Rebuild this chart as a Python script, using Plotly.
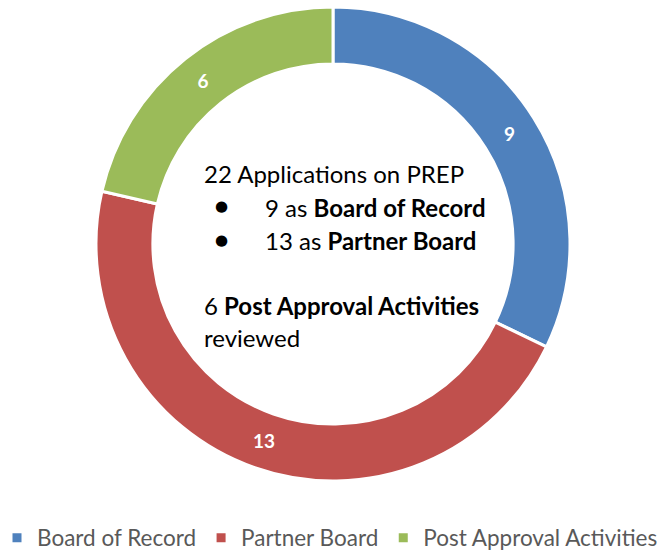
import plotly.graph_objects as go

categories = ["Board of Record", "Partner Board", "Post Approval Activities"]
values = [9, 13, 6]
colors = ["#4F81BD", "#C0504D", "#9BBB59"]

W, H = 669, 552
MB = 20               # bottom margin (legend lives there)
PH = H - MB           # plot-area height
FONT = "Lato"


def px(x):
    return x / W


def py(y):
    return 1 - y / PH


fig = go.Figure(go.Pie(
    labels=categories, values=values, sort=False, direction="clockwise",
    hole=0.76, marker=dict(colors=colors, line=dict(color="white", width=3)),
    textinfo="value", textposition="inside", insidetextorientation="horizontal",
    textfont=dict(family=FONT, size=19, color="white", weight="bold"),
    domain=dict(x=[px(95), px(571)], y=[py(481), py(7)]),
    hoverinfo="label+value",
))

center_lines = [
    (202, 173, "22 Applications on PREP"),
    (263, 207, "9 as <b>Board of Record</b>"),
    (263, 240, "13 as <b>Partner Board</b>"),
    (202, 305, "6 <b>Post Approval Activities</b>"),
    (202, 337, "reviewed"),
]
annotations = []
for x, y, t in center_lines:
    annotations.append(dict(x=px(x), y=py(y), xref="paper", yref="paper", text=t,
                            showarrow=False, xanchor="left", yanchor="middle",
                            font=dict(family=FONT, size=24, color="black")))
for y in (206, 240):
    annotations.append(dict(x=px(221), y=py(y), xref="paper", yref="paper", text="●",
                            showarrow=False, xanchor="center", yanchor="middle",
                            font=dict(family="DejaVu Sans", size=15, color="black")))

fig.update_layout(
    width=W, height=H, margin=dict(l=0, r=0, t=0, b=MB, autoexpand=False),
    paper_bgcolor="white", plot_bgcolor="white",
    showlegend=True,
    legend=dict(orientation="h", x=px(-3), xanchor="left", y=py(538), yanchor="middle",
                font=dict(family=FONT, size=22.5, color="#595959"),
                traceorder="normal"),
    annotations=annotations,
)

fig.write_html("out.html", config={"displayModeBar": False},
               post_script="document.body.style.margin='0';")
